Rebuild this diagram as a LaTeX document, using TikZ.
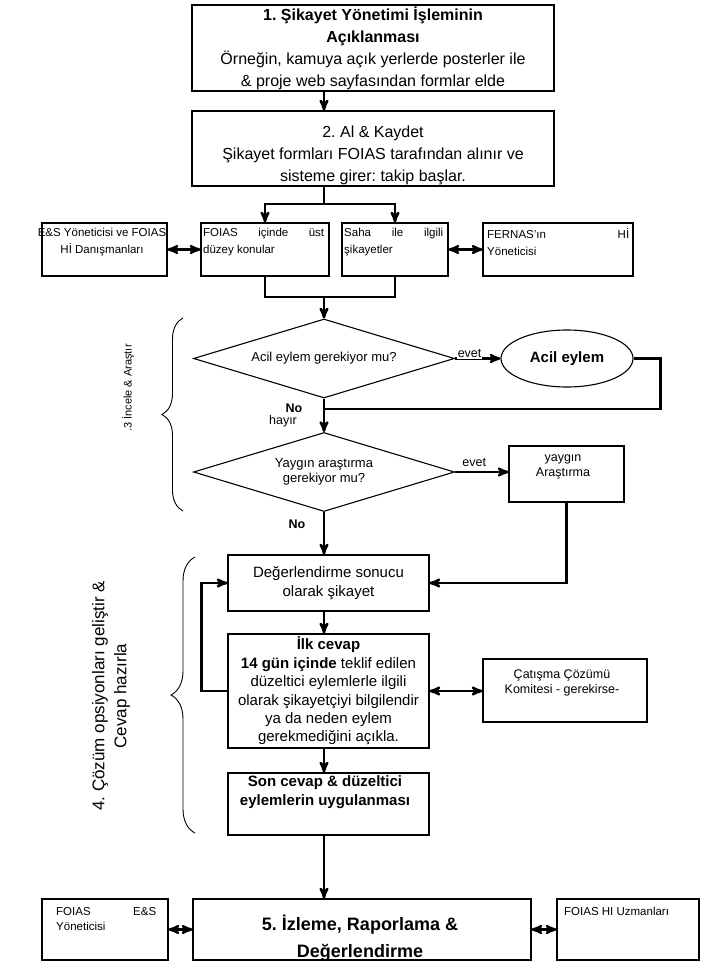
\documentclass[tikz,border=0pt]{standalone}
\usepackage{fontspec}
\setmainfont{Liberation Sans}
\usetikzlibrary{arrows,shapes.geometric,decorations.pathreplacing}

\newcommand{\fsz}[2]{\fontsize{#1}{#2}\selectfont}
\AtBeginDocument{\frenchspacing}

\begin{document}
\begin{tikzpicture}[x=1pt,y=-1pt,>=stealth',
    box/.style={draw,line width=1.1pt,inner sep=0pt},
    txt/.style={inner sep=0pt,align=center},
    line/.style={line width=2.5pt},
    arr/.style={line width=2.5pt,->},
    darr/.style={line width=2.5pt,<->},
    lbl/.style={inner sep=1pt,font=\fsz{12.5}{15}},
    dia/.style={diamond,draw,line width=1.1pt,inner sep=0pt,aspect=3.3,
                minimum width=261pt,minimum height=79pt,align=center,font=\fsz{13}{15}},
    brc/.style={decorate,decoration={brace,amplitude=#1},line width=0.9pt}]
  \useasboundingbox (0,0) rectangle (701,963);

  % top
  \node[box,txt,minimum width=362pt,minimum height=86pt,font=\fsz{16}{22}] (s1) at (373,48)
    {\textbf{1. Şikayet Yönetimi İşleminin}\\\textbf{Açıklanması}\\Örneğin, kamuya açık yerlerde posterler ile\\\& proje web sayfasından formlar elde};
  \node[box,minimum width=362pt,minimum height=75pt] (s2) at (373,148.5) {};
  \node[txt,font=\fsz{16}{22}] (s2t) at (373,155)
    {2. Al \& Kaydet\\Şikayet formları FOIAS tarafından alınır ve\\sisteme girer: takip başlar.};

  % row of four
  \node[box,minimum width=125pt,minimum height=53pt] (esy) at (104.5,249.5) {};
  \node[box,minimum width=128pt,minimum height=53pt] (foias) at (265,249.5) {};
  \node[box,minimum width=106pt,minimum height=53pt] (saha) at (395,249.5) {};
  \node[box,minimum width=150pt,minimum height=53pt] (fernas) at (558,249.5) {};
  \node[txt,anchor=north,font=\fsz{11.5}{17}] (esyt) at (102,228) {E\&S Yöneticisi ve FOIAS\\Hİ Danışmanları};
  \node[txt,anchor=north west,align=left,font=\fsz{11.5}{17}] (foiast) at (203,228)
    {\makebox[121pt][s]{FOIAS içinde üst}\\düzey konular};
  \node[txt,anchor=north west,align=left,font=\fsz{11.5}{17}] (sahat) at (344,228)
    {\makebox[99pt][s]{Saha ile ilgili}\\şikayetler};
  \node[txt,anchor=north west,align=left,font=\fsz{11.5}{17}] (fernast) at (487,228)
    {\makebox[142pt][s]{FERNAS'ın Hİ}\\Yöneticisi};

  % 3
  \node[dia] (d1) at (324,358.5) {Acil eylem gerekiyor mu?};
  \node[ellipse,draw,line width=1.1pt,minimum width=132pt,minimum height=57pt,
        font=\bfseries\fsz{15}{18}] (acil) at (567,358.5) {Acil eylem};
  \node[dia] (d2) at (324,472) {Yaygın araştırma\\gerekiyor mu?};
  \node[box,minimum width=115pt,minimum height=56pt] (yay) at (566.5,474) {};
  \node[txt,font=\fsz{12.5}{14.5}] (yayt) at (563,467) {yaygın\\Araştırma};

  % 4
  \node[box,txt,minimum width=201pt,minimum height=56pt,font=\fsz{15}{19}] (deg) at (328.5,583)
    {Değerlendirme sonucu\\olarak şikayet};
  \node[box,txt,minimum width=201pt,minimum height=114pt,font=\fsz{15}{18.4}] (ilk) at (328.5,691)
    {\textbf{İlk cevap}\\\textbf{14 gün içinde} teklif edilen\\düzeltici eylemlerle ilgili\\olarak şikayetçiyi bilgilendir\\ya da neden eylem\\gerekmediğini açıkla.};
  \node[box,minimum width=164pt,minimum height=63pt] (cat) at (565,690.5) {};
  \node[txt,font=\fsz{12.5}{15}] (catt) at (562,682.5) {Çatışma Çözümü\\Komitesi - gerekirse-};
  \node[box,minimum width=201pt,minimum height=62pt] (son) at (328.5,804) {};
  \node[txt,font=\bfseries\fsz{15}{19}] (sont) at (325,792.5) {Son cevap \& düzeltici\\eylemlerin uygulanması};

  % 5
  \node[box,minimum width=338pt,minimum height=61pt] (izl) at (362,929.5) {};
  \node[txt,font=\bfseries\fsz{18}{27}] (izlt) at (360,938) {5. İzleme, Raporlama \&\\Değerlendirme};
  \node[box,minimum width=126pt,minimum height=61pt] (fes) at (105,929.5) {};
  \node[txt,anchor=north west,align=left,font=\fsz{11.5}{15}] (fest) at (56,907)
    {\makebox[100pt][s]{FOIAS E\&S}\\Yöneticisi};
  \node[box,minimum width=142pt,minimum height=61pt] (fhi) at (628,929.5) {};
  \node[txt,anchor=north west,font=\fsz{11.5}{15}] (fhit) at (564,907) {FOIAS HI Uzmanları};

  % side braces
  \draw[brc=21pt] (183,511) -- (183,318);
  \draw[brc=24pt] (195,833) -- (195,557);
  \node[txt,rotate=90,font=\fsz{11}{13}] (inc) at (128,388) {.3 İncele \& Araştır};
  \node[txt,rotate=90,font=\fsz{17}{22}] (coz) at (111,696) {4. Çözüm opsiyonları geliştir \&\\Cevap hazırla};

  % connectors
  \coordinate (br) at (324,204);
  \coordinate (mg) at (324,297);
  \coordinate (hy) at (324,409);
  \draw[arr] (s1.south -| br) -- (s2.north -| br);
  \draw[line] (s2.south -| br) -- (br);
  \draw[arr] (br) -| (foias.north);
  \draw[arr] (br) -| (saha.north);
  \draw[line] (foias.south) |- (mg);
  \draw[line] (saha.south) |- (mg);
  \draw[arr] (mg) -- (d1.north);
  \draw[darr] (esy) -- (foias);
  \draw[darr] (saha) -- (fernas);

  \draw[arr] (d1.east) -- node[lbl,pos=0.32,fill=white,yshift=5pt] (ev1) {evet} (acil.west);
  \draw[line] (acil.east) -- ++(27,0) |- (hy);
  \draw[arr] (d1.south) -- (d2.north);
  \node[lbl,font=\bfseries\fsz{12.5}{15}] (no1) at (294,408) {No};
  \node[lbl] (hay) at (283,421) {hayır};
  \draw[arr] (d2.east) -- node[lbl,above=3pt,pos=0.36] (ev2) {evet} (d2.east -| yay.west);
  \draw[arr] (d2.south) -- (d2.south |- deg.north);
  \node[lbl,font=\bfseries\fsz{12.5}{15}] (no2) at (297,524) {No};

  \draw[arr] (yay.south) |- (deg.east);
  \draw[arr] (ilk.west) -- ++(-26,0) |- (deg.west);
  \draw[arr] (deg.south -| br) -- (ilk.north -| br);
  \draw[darr] (ilk.east) -- (ilk.east -| cat.west);
  \draw[arr] (ilk.south -| br) -- (son.north -| br);
  \draw[arr] (son.south -| br) -- (izl.north -| br);
  \draw[darr] (fes) -- (izl);
  \draw[darr] (izl) -- (fhi);
\end{tikzpicture}
\end{document}
